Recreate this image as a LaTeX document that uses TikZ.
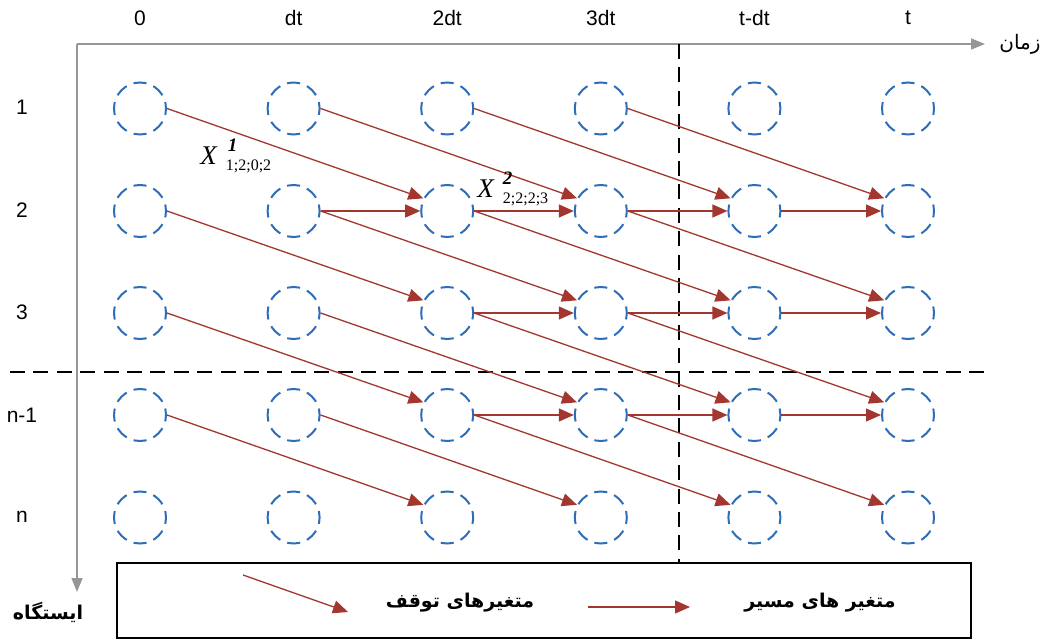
\documentclass[tikz,border=0pt]{standalone}
\usepackage{fontspec}
\setmainfont{Liberation Sans}
\newfontfamily\tnr{Liberation Serif}
\newfontfamily\fa[Script=Arabic]{DejaVu Sans}
\TeXXeTstate=1
\usetikzlibrary{arrows.meta}
\definecolor{cblue}{RGB}{46,110,184}
\definecolor{cred}{RGB}{163,55,48}
\definecolor{cgray}{RGB}{150,150,150}
\newcommand{\xlab}[3]{{\tnr\fontsize{13.5}{14}\selectfont\itshape X}\hspace{4.5pt}\makebox[0pt][l]{\hspace{#3}\raisebox{6.5pt}{\tnr\fontsize{9.5}{10}\selectfont\bfseries\itshape #1}}\raisebox{-3pt}{\tnr\fontsize{8}{9}\selectfont #2}}
\begin{document}
\begin{tikzpicture}[x=0.5pt,y=-0.5pt,
  st/.style={circle, draw=cblue, line width=1pt, dash pattern=on 6.5pt off 3.7pt, dash phase=3.25pt, minimum size=26pt, inner sep=0pt},
  arr/.style={draw=cred, line width=0.65pt, -{Triangle[length=7.5pt,width=6.5pt]}},
  axis/.style={draw=cgray, line width=0.7pt, -{Triangle[length=7pt,width=5.5pt]}},
  sep/.style={draw=black, line width=1pt, dash pattern=on 7.5pt off 4.2pt},
  lab/.style={font=\fontsize{10.5}{12}\selectfont},
  fatxt/.style={font=\fa\fontsize{10}{12}\selectfont},
  fabold/.style={font=\fa\bfseries\fontsize{9.5}{12}\selectfont}]
\useasboundingbox (0,0) rectangle (1048,641);
\fill[white] (0,0) rectangle (1048,641);
% axes
\coordinate (o) at (77,44);
\coordinate (xe) at (985,44);
\coordinate (ye) at (77,592);
\draw[axis] (o) -- (xe);
\draw[axis] (o) -- (ye);
\node[fatxt] (tl) at (1020,44) {\beginR زمان\endR};
\node[fabold] (sl) at (48,612) {\beginR ایستگاه\endR};
% column labels
\foreach \c/\x/\t in {0/140/0,1/293.6/dt,2/447.2/2dt,3/600.8/3dt,4/754.4/t-dt,5/908/t}
  \node[lab] (c\c) at (\x,18) {\t};
% row labels
\foreach \r/\y/\t in {1/107/1,2/210/2,3/312/3,4/415/n-1,5/517/n}
  \node[lab] (r\r) at (22,\y) {\t};
% separators
\coordinate (v1) at (679,44);
\coordinate (v2) at (679,563);
\coordinate (h1) at (10,372);
\coordinate (h2) at (990,372);
\draw[sep] (v1) -- (v2);
\draw[sep] (h1) -- (h2);
% states
\foreach \c/\x in {0/140,1/293.6,2/447.2,3/600.8,4/754.4,5/908}
  \foreach \r/\y in {1/108.5,2/211,3/313,4/415,5/517.5}
    \node[st] (n\r\c) at (\x,\y) {};
% stop-variable arrows (diagonal)
\foreach \r in {1,...,4}{
  \foreach \c in {0,...,3}{
    \pgfmathtruncatemacro\rn{\r+1}
    \pgfmathtruncatemacro\cn{\c+2}
    \draw[arr] (n\r\c.east) -- (n\rn\cn.152);
  }
}
% route-variable arrows (horizontal)
\foreach \c in {1,...,4}{
  \pgfmathtruncatemacro\cn{\c+1}
  \draw[arr] (n2\c.east) -- (n2\cn.west);
}
\foreach \r in {3,4}{
  \foreach \c in {2,3,4}{
    \pgfmathtruncatemacro\cn{\c+1}
    \draw[arr] (n\r\c.east) -- (n\r\cn.west);
  }
}
% labels
\node[anchor=base west, inner sep=0pt] (x1) at (200,165) {\xlab{1}{1;2;0;2}{1pt}};
\node[anchor=base west, inner sep=0pt] (x2) at (477,198) {\xlab{2}{2;2;2;3}{0pt}};
% legend
\draw[line width=1pt] (117,563) rectangle (971,638);
\coordinate (la1) at (243,575);
\coordinate (la2) at (348,612);
\coordinate (lb1) at (588,607);
\coordinate (lb2) at (690,607);
\draw[arr] (la1) -- (la2);
\draw[arr] (lb1) -- (lb2);
\node[fabold] (lt1) at (460,603) {\beginR متغیرهای توقف\endR};
\node[fabold] (lt2) at (820,603) {\beginR متغیر های مسیر\endR};
\end{tikzpicture}
\end{document}
